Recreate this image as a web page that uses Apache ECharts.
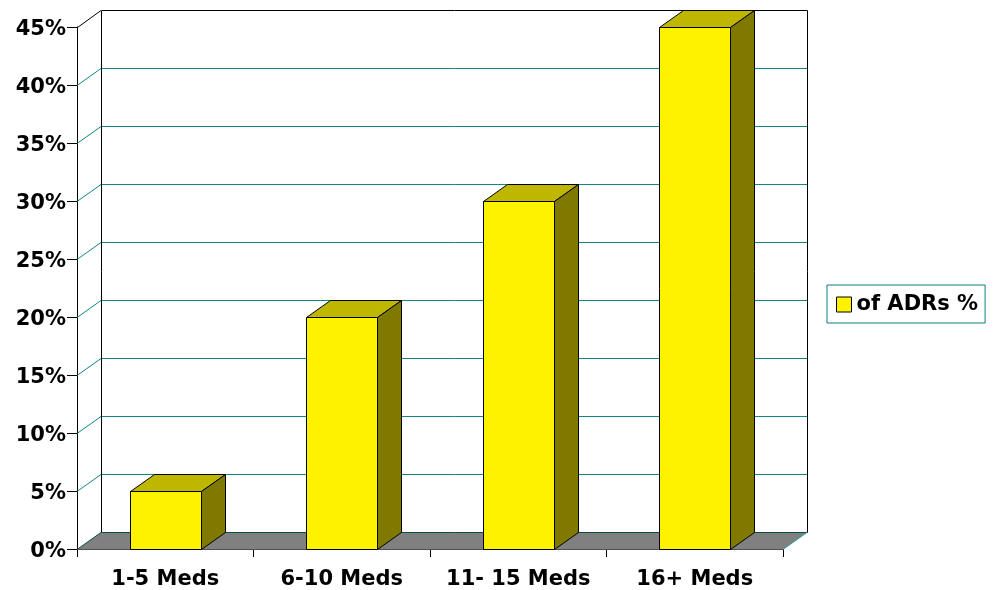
<!DOCTYPE html>
<html>
<head>
<meta charset="utf-8">
<script src="https://cdn.jsdelivr.net/npm/echarts@6/dist/echarts.min.js"></script>
<style>
  html, body { margin: 0; padding: 0; background: #ffffff; }
  #chart { width: 997px; height: 590px; }
</style>
</head>
<body>
<div id="chart"></div>
<script>
// Share of adverse drug reactions by number of medications taken
const categories = ['1-5 Meds', '6-10 Meds', '11- 15 Meds', '16+ Meds'];
const adrShare = [5, 20, 30, 45];
const seriesName = 'of ADRs %';
const yTicks = [0, 5, 10, 15, 20, 25, 30, 35, 40, 45];

// Look of the 3-D box
const DX = 24;          // depth offset to the right
const DY = -17;         // depth offset upwards
const BAR_RATIO = 0.4;  // bar width relative to the category band
const FONT = 'DejaVu Sans';
const TEAL = '#118585';
const FACE = '#FFF200';
const TOP = '#BFB600';
const SIDE = '#7F7900';

const crisp = v => Math.round(v) + 0.5;
const line = (x1, y1, x2, y2, color, w) => ({
  type: 'line',
  shape: { x1, y1, x2, y2 },
  style: { stroke: color, lineWidth: w || 1 },
  silent: true
});

// Walls, gridlines and floor of the box
function renderFrame(params, api) {
  const band = api.size([1, 0])[0];
  const c0 = api.coord([0, 0]);
  const left = c0[0] - band / 2;
  const right = api.coord([categories.length - 1, 0])[0] + band / 2;
  const yMax = yTicks[yTicks.length - 1];
  const top = crisp(api.coord([0, yMax])[1]);
  const base = crisp(c0[1]);
  const bl = crisp(left + DX), br = crisp(right + DX);
  const children = [];

  // floor
  children.push({
    type: 'polygon',
    shape: { points: [[left, base], [right, base], [right + DX, base + DY], [left + DX, base + DY]] },
    style: { fill: '#808080', stroke: null },
    silent: true
  });

  // gridlines on the left wall and the back wall
  yTicks.forEach(v => {
    if (v === 0 || v === yMax) return;
    const y = crisp(api.coord([0, v])[1]);
    children.push(line(left, y, left + DX, y + DY, TEAL));
    children.push(line(bl, y + DY, br, y + DY, TEAL));
  });

  // floor edges
  children.push(line(bl, base + DY, br, base + DY, '#0B4B4B'));
  children.push(line(left, base, left + DX, base + DY, '#0B4B4B'));
  children.push(line(right, base, right + DX, base + DY, '#2FA3A3'));
  children.push(line(left, base, right, base, '#505050'));

  // wall outlines
  children.push(line(bl, top + DY, br, top + DY, '#000'));
  children.push(line(crisp(left), top, left + DX, top + DY, '#000'));
  children.push(line(bl, top + DY, bl, base + DY, '#000'));
  children.push(line(br, top + DY, br, base + DY, '#000'));

  return { type: 'group', children };
}

// One 3-D column: front face, top and right side
function renderBar(params, api) {
  const idx = api.value(0);
  const val = api.value(1);
  const w = api.size([1, 0])[0] * BAR_RATIO;
  const b = api.coord([idx, 0]);
  const t = api.coord([idx, val]);
  const x0 = crisp(b[0] - w / 2), x1 = crisp(b[0] + w / 2);
  const yb = crisp(b[1]), yt = crisp(t[1]);
  const st = fill => ({ fill, stroke: '#000', lineWidth: 1, lineJoin: 'round' });
  return {
    type: 'group',
    children: [
      { type: 'polygon', shape: { points: [[x0, yb], [x1, yb], [x1, yt], [x0, yt]] }, style: st(FACE) },
      { type: 'polygon', shape: { points: [[x0, yt], [x1, yt], [x1 + DX, yt + DY], [x0 + DX, yt + DY]] }, style: st(TOP) },
      { type: 'polygon', shape: { points: [[x1, yb], [x1 + DX, yb + DY], [x1 + DX, yt + DY], [x1, yt]] }, style: st(SIDE) }
    ]
  };
}

const chart = echarts.init(document.getElementById('chart'), null, { renderer: 'canvas' });

const labelFont = { fontFamily: FONT, fontWeight: 'bold', fontSize: 21, color: '#000' };

chart.setOption({
  animation: false,
  backgroundColor: '#ffffff',
  grid: {
    left: 77, right: 214, top: 27, bottom: 41,
    containLabel: false,
    outerBoundsMode: 'none'
  },
  legend: {
    left: 827, top: 285,
    padding: [9, 7, 8, 9],
    borderColor: '#0A8080',
    borderWidth: 1,
    itemWidth: 15, itemHeight: 15,
    selectedMode: false,
    textStyle: labelFont,
    data: [{ name: seriesName, icon: 'rect', itemStyle: { color: FACE, borderColor: '#000', borderWidth: 1 } }]
  },
  xAxis: {
    type: 'category',
    data: categories,
    boundaryGap: true,
    axisLine: { show: true, lineStyle: { color: '#505050', width: 1 } },
    axisTick: { show: true, length: 8, lineStyle: { color: '#000' } },
    axisLabel: Object.assign({ interval: 0, margin: 20 }, labelFont),
    splitLine: { show: false }
  },
  yAxis: {
    type: 'value',
    min: 0, max: 45, interval: 5,
    axisLine: { show: true, lineStyle: { color: '#000', width: 1 } },
    axisTick: { show: true, length: 10, lineStyle: { color: '#000' } },
    axisLabel: Object.assign({
      formatter: '{v|{value}%}', margin: 11,
      rich: { v: Object.assign({ padding: [6, 0, 0, 0] }, labelFont) }
    }, labelFont),
    splitLine: { show: false }
  },
  series: [
    {
      name: 'frame',
      type: 'custom',
      z: 1,
      silent: true,
      renderItem: renderFrame,
      data: [[0, 0]]
    },
    {
      name: seriesName,
      type: 'custom',
      z: 3,
      itemStyle: { color: FACE, borderColor: '#000', borderWidth: 1 },
      renderItem: renderBar,
      data: adrShare.map((v, i) => [i, v])
    }
  ]
});
</script>
</body>
</html>
